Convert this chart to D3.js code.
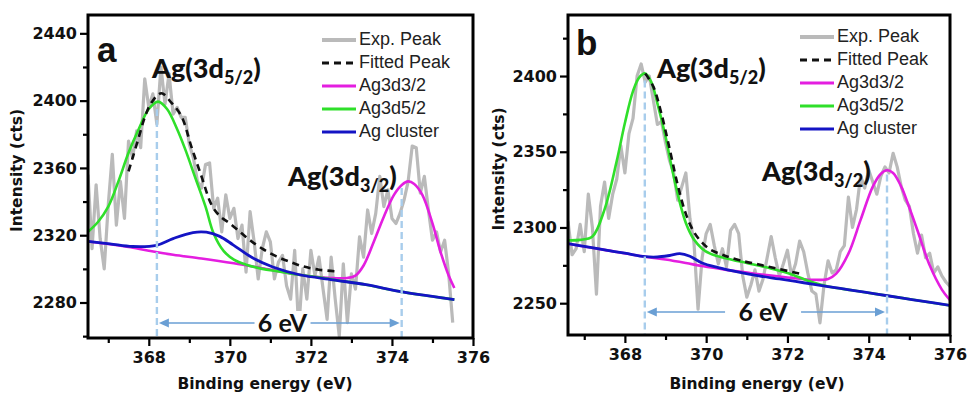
<!DOCTYPE html>
<html><head><meta charset="utf-8">
<script src="https://cdn.jsdelivr.net/npm/d3@7"></script>
<style>
html,body{margin:0;padding:0;background:#fff;}
svg{display:block;}
</style></head>
<body>
<svg id="chart" width="968" height="395"></svg>
<script>
// ---------------- DATA ----------------
const xTicks = [368, 370, 372, 374, 376];
const xMinorTicks = [367, 369, 371, 373, 375];
const yTicksA = [2280, 2320, 2360, 2400, 2440];
const yMinorA = [2260, 2300, 2340, 2380, 2420];
const yTicksB = [2250, 2300, 2350, 2400];
const yMinorB = [2275, 2325, 2375, 2425];
const legendLabels = ["Exp. Peak", "Fitted Peak", "Ag3d3/2", "Ag3d5/2", "Ag cluster"];

// Panel a: experimental spectrum
const energyA = [366.5,366.6,366.7,366.8,366.9,367.0,367.1,367.2,367.3,367.4,367.5,367.6,367.7,367.8,367.9,368.0,368.1,368.2,368.3,368.4,368.5,368.6,368.7,368.8,368.9,369.0,369.1,369.2,369.3,369.4,369.5,369.6,369.7,369.8,369.9,370.0,370.1,370.2,370.3,370.4,370.5,370.6,370.7,370.8,370.9,371.0,371.1,371.2,371.3,371.4,371.5,371.6,371.7,371.8,371.9,372.0,372.1,372.2,372.3,372.4,372.5,372.6,372.7,372.8,372.9,373.0,373.1,373.2,373.3,373.4,373.5,373.6,373.7,373.8,373.9,374.0,374.1,374.2,374.3,374.4,374.5,374.6,374.7,374.8,374.9,375.0,375.1,375.2,375.3,375.4,375.5];
const expA = [2356,2312,2350,2318,2300,2338,2368,2326,2352,2330,2376,2366,2382,2372,2413,2396,2404,2386,2420,2398,2416,2392,2396,2390,2390,2374,2366,2352,2348,2362,2363,2336,2342,2322,2344,2330,2336,2318,2326,2298,2334,2316,2294,2312,2322,2316,2294,2304,2308,2290,2282,2311,2264,2300,2282,2311,2296,2307,2288,2270,2307,2282,2260,2303,2268,2297,2288,2319,2307,2335,2321,2333,2355,2337,2347,2330,2327,2333,2341,2352,2373,2372,2345,2355,2335,2317,2322,2310,2317,2297,2268];
// Panel a: fitted components
const fitXA = [367.5,367.6,367.75,367.9,368.07,368.31,368.55,368.81,369.05,369.3,369.55,369.75,370.0,370.25,370.5,370.8,371.15,371.5,371.8,372.2,372.63];
const fitYA = [2358,2366,2378,2390,2399,2404.4,2399,2390.5,2372.7,2355,2338,2331.5,2327,2322,2317,2312,2307.4,2304,2301.5,2299.5,2298.5];
const d32XA = [366.5,367.0,367.5,368.0,368.6,369.3,370.1,370.9,371.7,372.5,372.9,373.1,373.3,373.55,373.8,374.05,374.25,374.4,374.55,374.75,375.0,375.2,375.4,375.54];
const d32YA = [2316.3,2314.8,2313.0,2310.8,2308.4,2306.2,2303.3,2299.9,2296.5,2294.6,2294.6,2296,2302,2316,2331,2344,2350,2352,2350.5,2344,2327,2310,2296,2288.6];
const d52XA = [366.5,366.75,367.0,367.25,367.5,367.75,368.0,368.23,368.45,368.7,368.9,369.15,369.4,369.6,369.85,370.1,370.4,370.8,371.2,371.7,372.2,372.7,373.36,374.18,375.0,375.54];
const d52YA = [2322,2328,2337,2352,2369,2383,2395,2399.4,2395,2383,2371,2354,2337,2321,2310.5,2305.5,2302.5,2300,2298.5,2296.5,2295,2293,2290.6,2286.6,2283.6,2281.7];
const clusterXA = [366.5,367.04,367.6,368.19,368.6,369.09,369.42,369.75,370.08,370.57,371.06,371.72,372.54,373.36,374.18,375.0,375.54];
const clusterYA = [2316.3,2314.9,2313.3,2314.0,2318.0,2321.6,2321.8,2319.3,2314.3,2306.4,2301.1,2296.5,2293.5,2290.6,2286.6,2283.6,2281.7];
const peakPosA = [368.2, 374.24];
const peakTopA = [2395, 2348];

// Panel b: experimental spectrum
const energyB = [366.6,366.7,366.8,366.9,367.0,367.1,367.2,367.3,367.4,367.5,367.6,367.7,367.8,367.9,368.0,368.1,368.2,368.3,368.4,368.5,368.6,368.7,368.8,368.9,369.0,369.1,369.2,369.3,369.4,369.5,369.6,369.7,369.8,369.9,370.0,370.1,370.2,370.3,370.4,370.5,370.6,370.7,370.8,370.9,371.0,371.1,371.2,371.3,371.4,371.5,371.6,371.7,371.8,371.9,372.0,372.1,372.2,372.3,372.4,372.5,372.6,372.7,372.8,372.9,373.0,373.1,373.2,373.3,373.4,373.5,373.6,373.7,373.8,373.9,374.0,374.1,374.2,374.3,374.4,374.5,374.6,374.7,374.8,374.9,375.0,375.1,375.2,375.3,375.4,375.5,375.6,375.7,375.8,375.9,376.0];
const expB = [2304,2282,2286,2302,2284,2322,2300,2256,2314,2330,2306,2322,2332,2354,2336,2362,2372,2400,2408,2396,2400,2384,2368,2370,2356,2344,2336,2318,2327,2336,2306,2290,2246,2280,2296,2302,2288,2276,2286,2274,2298,2302,2296,2268,2254,2262,2272,2258,2266,2280,2294,2280,2268,2276,2285,2268,2276,2291,2284,2270,2258,2256,2237,2262,2278,2270,2272,2284,2288,2320,2300,2312,2334,2326,2338,2330,2322,2334,2340,2336,2349,2340,2327,2318,2314,2296,2283,2295,2280,2283,2270,2274,2268,2264,2261];
// Panel b: fitted components
const fitXB = [368.5,368.7,368.9,369.1,369.3,369.5,369.7,369.9,370.1,370.4,370.8,371.3,371.8,372.4];
const fitYB = [2401.7,2393,2375,2352,2328,2309,2297,2290,2285.5,2282,2278.5,2275.5,2272.5,2269];
const d32XB = [366.6,367.5,368.5,369.0,369.5,369.9,370.5,371.2,372.0,372.6,373.0,373.2,373.5,373.8,374.1,374.3,374.45,374.6,374.8,375.0,375.2,375.5,375.8,376.0];
const d32YB = [2289.3,2285.2,2280.7,2278.8,2276.5,2274.5,2272,2269.5,2267,2265.5,2266,2269.5,2282.7,2305,2327,2335.5,2337.8,2336,2327,2313,2298,2275,2259,2252];
const d52XB = [366.6,366.9,367.2,367.5,367.8,368.0,368.2,368.35,368.5,368.65,368.8,369.0,369.15,369.3,369.5,369.7,369.9,370.1,370.5,371.0,371.5,372.0,372.6,373.0,373.6,374.2,374.8,375.4,376.0];
const d52YB = [2291.5,2291.8,2294,2312,2344,2369,2390,2399,2401.7,2396,2382,2360,2340,2322,2303,2292,2286,2282.7,2279.5,2276.5,2273.5,2270,2264,2261,2258.5,2256,2253.5,2251,2248.5];
const clusterXB = [366.6,367.0,367.5,368.0,368.5,368.8,369.1,369.35,369.6,369.9,370.3,370.8,371.3,371.8,372.4,373.0,373.6,374.2,374.8,375.4,376.0];
const clusterYB = [2289.3,2287.5,2285.2,2283,2280.7,2280.5,2281.5,2282.7,2281,2276.5,2273.5,2270.5,2268,2266,2263.5,2261,2258.5,2256,2253.5,2251,2248.5];
const peakPosB = [368.49, 374.45];
const peakTopB = [2397, 2335];

// ---------------- DRAW ----------------
const svg = d3.select("#chart");
const C = {exp:"#bababa", fit:"#111", d32:"#e41ee0", d52:"#2fdf2a", cl:"#1414c4", guide:"#a8cdec", arrow:"#6a9fd4"};
const tickFont = "'DejaVu Sans', Arial, sans-serif";

function pairs(xs, ys){ return xs.map((x,i)=>[x, ys[i]]); }

function panel(o){
  const x = d3.scaleLinear().domain(o.xd).range([o.L, o.R]);
  const y = d3.scaleLinear().domain(o.yd).range([o.B, o.T]);
  const g = svg.append("g");
  const cid = "clip" + o.id;
  svg.append("clipPath").attr("id", cid).append("rect")
    .attr("x", o.L).attr("y", o.T).attr("width", o.R - o.L).attr("height", o.B - o.T);
  const plot = g.append("g").attr("clip-path", `url(#${cid})`);
  const line = d3.line().x(d=>x(d[0])).y(d=>y(d[1]));
  const smooth = d3.line().x(d=>x(d[0])).y(d=>y(d[1])).curve(d3.curveCatmullRom.alpha(0.5));

  plot.append("path").datum(pairs(o.ex, o.ey)).attr("d", line)
    .attr("fill","none").attr("stroke",C.exp).attr("stroke-width",3.2).attr("stroke-linejoin","round");
  plot.append("path").datum(pairs(o.d32x, o.d32y)).attr("d", smooth)
    .attr("fill","none").attr("stroke",C.d32).attr("stroke-width",2.6);
  plot.append("path").datum(pairs(o.d52x, o.d52y)).attr("d", smooth)
    .attr("fill","none").attr("stroke",C.d52).attr("stroke-width",2.6);
  plot.append("path").datum(pairs(o.clx, o.cly)).attr("d", smooth)
    .attr("fill","none").attr("stroke",C.cl).attr("stroke-width",2.8);
  plot.append("path").datum(pairs(o.fx, o.fy)).attr("d", smooth)
    .attr("fill","none").attr("stroke",C.fit).attr("stroke-width",2.6).attr("stroke-dasharray","7,5");

  // guide lines
  o.peaks.forEach((p,i)=>{
    plot.append("line").attr("x1",x(p)).attr("x2",x(p)).attr("y1",y(o.peakTop[i])).attr("y2",o.B)
      .attr("stroke",C.guide).attr("stroke-width",2.4).attr("stroke-dasharray","7,4");
  });
  // arrow
  const ay = o.arrowY, x1 = x(o.peaks[0]) + 2, x2 = x(o.peaks[1]) - 2;
  plot.append("line").attr("x1",x1+8).attr("x2",x2-8).attr("y1",ay).attr("y2",ay)
    .attr("stroke",C.arrow).attr("stroke-width",1.4);
  plot.append("path").attr("d",`M${x1},${ay}L${x1+10},${ay-4.5}L${x1+10},${ay+4.5}Z`).attr("fill",C.arrow);
  plot.append("path").attr("d",`M${x2},${ay}L${x2-10},${ay-4.5}L${x2-10},${ay+4.5}Z`).attr("fill",C.arrow);
  const mid = x(o.evX);
  plot.append("rect").attr("x", mid - o.evGap/2).attr("y", ay-12).attr("width", o.evGap).attr("height", 22).attr("fill","#fff");
  plot.append("text").attr("x", mid).attr("y", ay + 9).attr("text-anchor","middle")
    .attr("font-family","Lato, 'Open Sans', sans-serif").attr("font-weight","bold").attr("font-size",25)
    .attr("fill","#111").text("6 eV");

  // axes
  const fmt = d3.format("d");
  const axL = d3.axisLeft(y).tickValues(o.yt).tickFormat(fmt).tickSize(8).tickPadding(3).tickSizeOuter(0);
  const axLm = d3.axisLeft(y).tickValues(o.ym).tickSize(5).tickFormat("").tickSizeOuter(0);
  const axB = d3.axisBottom(x).tickValues(xTicks).tickFormat(fmt).tickSize(8).tickPadding(6).tickSizeOuter(0);
  const axBm = d3.axisBottom(x).tickValues(xMinorTicks).tickSize(5).tickFormat("").tickSizeOuter(0);
  [[axL, `translate(${o.L},0)`],[axLm, `translate(${o.L},0)`],[axB, `translate(0,${o.B})`],[axBm, `translate(0,${o.B})`]].forEach(([a,t])=>{
    const ga = g.append("g").attr("transform", t).call(a);
    ga.select(".domain").remove();
    ga.selectAll("line").attr("stroke","#000").attr("stroke-width",2.2);
    ga.selectAll("text").attr("font-family",tickFont).attr("font-weight","bold").attr("font-size",16).attr("fill","#111");
  });
  g.append("rect").attr("x",o.L).attr("y",o.T).attr("width",o.R-o.L).attr("height",o.B-o.T)
    .attr("fill","none").attr("stroke","#000").attr("stroke-width",3);

  // axis titles
  g.append("text").attr("transform",`translate(${o.ytX},${(o.T+o.B)/2 - 6}) rotate(-90)`)
    .attr("text-anchor","middle").attr("dominant-baseline","middle")
    .attr("font-family",tickFont).attr("font-weight","bold").attr("font-size",15.5).attr("fill","#111")
    .text("Intensity (cts)");
  g.append("text").attr("x", o.xtX).attr("y", 389).attr("text-anchor","middle")
    .attr("font-family",tickFont).attr("font-weight","bold").attr("font-size",15.5).attr("fill","#111")
    .text("Binding energy (eV)");

  // panel letter
  g.append("text").attr("x",o.letX).attr("y",o.letY).attr("font-family","'Liberation Sans', Arial, sans-serif")
    .attr("font-weight","bold").attr("font-size",35).attr("fill","#111").text(o.letter);

  // peak labels
  o.labels.forEach(l=>{
    const t = g.append("text").attr("x",l.x).attr("y",l.y).attr("font-family","Lato, 'Open Sans', sans-serif")
      .attr("font-weight","900").attr("font-size",27).attr("fill","#111");
    t.append("tspan").text("Ag(3d");
    t.append("tspan").attr("font-size",18).attr("dy",6).text(l.sub);
    t.append("tspan").attr("dy",-6).text(")");
  });

  // legend
  const colors = [C.exp, C.fit, C.d32, C.d52, C.cl];
  legendLabels.forEach((lab,i)=>{
    const yy = o.legY + i*o.legDy;
    g.append("line").attr("x1",o.legX).attr("x2",o.legX+34).attr("y1",yy).attr("y2",yy)
      .attr("stroke",colors[i]).attr("stroke-width", i===0 ? 4 : 3)
      .attr("stroke-dasharray", i===1 ? "7,5" : null);
    g.append("text").attr("x",o.legX+37).attr("y",yy).attr("dominant-baseline","middle")
      .attr("font-family","'Liberation Sans', Arial, sans-serif").attr("font-size",18).attr("fill","#222").text(lab);
  });
}

panel({id:"a", L:88, R:473, T:15, B:338, xd:[366.5,376], yd:[2258.9,2450.9],
  yt:yTicksA, ym:yMinorA, ex:energyA, ey:expA, fx:fitXA, fy:fitYA,
  d32x:d32XA, d32y:d32YA, d52x:d52XA, d52y:d52YA, clx:clusterXA, cly:clusterYA,
  peaks:peakPosA, peakTop:peakTopA, arrowY:323, evX:371.3, evGap:56,
  ytX:17, xtX:265, letter:"a", letX:97, letY:62,
  labels:[{x:152,y:78,sub:"5/2"},{x:288,y:186,sub:"3/2"}],
  legX:322, legY:40, legDy:23});

panel({id:"b", L:568, R:950, T:15, B:335, xd:[366.6,376], yd:[2229,2440.3],
  yt:yTicksB, ym:yMinorB, ex:energyB, ey:expB, fx:fitXB, fy:fitYB,
  d32x:d32XB, d32y:d32YB, d52x:d52XB, d52y:d52YB, clx:clusterXB, cly:clusterYB,
  peaks:peakPosB, peakTop:peakTopB, arrowY:312, evX:371.4, evGap:76,
  ytX:499, xtX:757, letter:"b", letX:576, letY:55,
  labels:[{x:657,y:78,sub:"5/2"},{x:762,y:181,sub:"3/2"}],
  legX:800, legY:37, legDy:23});
</script>
</body></html>
